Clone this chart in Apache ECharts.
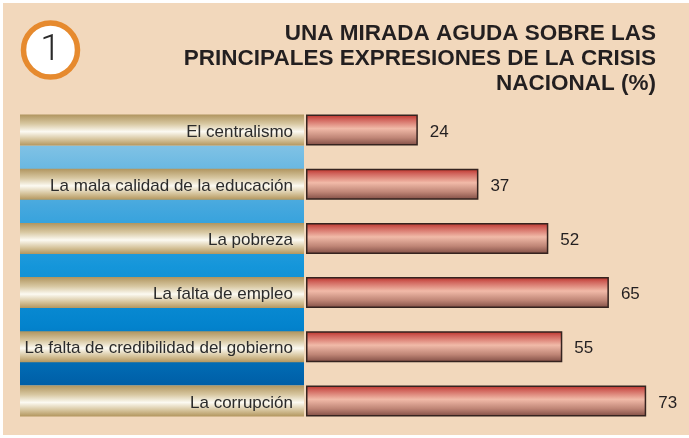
<!DOCTYPE html>
<html>
<head>
<meta charset="utf-8">
<script src="https://cdn.jsdelivr.net/npm/echarts@6/dist/echarts.min.js"></script>
<style>
  html, body { margin: 0; padding: 0; background: #ffffff; }
  #app { width: 689px; height: 438px; }
</style>
</head>
<body>
<div id="app"></div>
<script>
// crisis expressions, percent
const categories = [
  "El centralismo",
  "La mala calidad de la educación",
  "La pobreza",
  "La falta de empleo",
  "La falta de credibilidad del gobierno",
  "La corrupción",
];
const values = [24, 37, 52, 65, 55, 73];
const panelFill = [1, 1, 1, 1, 1, 1]; // label strips span the whole panel
const titleText = "UNA MIRADA AGUDA SOBRE LAS\nPRINCIPALES EXPRESIONES DE LA CRISIS\nNACIONAL (%)";

const FONT = "'Liberation Sans', Arial, sans-serif";
const gridTop = 103;
const gridHeight = 325;
const barW = 31;
const band = gridHeight / categories.length;

const chart = echarts.init(document.getElementById("app"));

const grad = (stops) => new echarts.graphic.LinearGradient(0, 0, 0, 1, stops);

chart.setOption({
  animation: false,
  graphic: [
    {
      type: "rect",
      z: -10,
      shape: { x: 3, y: 3, width: 686, height: 432 },
      style: { fill: "#f2d8bc" },
    },
    {
      // blue strip behind the label panel
      type: "rect",
      z: -5,
      shape: {
        x: 20,
        y: gridTop + band / 2 + barW / 2,
        width: 284,
        height: band * (categories.length - 1) - barW,
      },
      style: {
        fill: grad([
          { offset: 0, color: "#80c2e5" },
          { offset: 0.25, color: "#46a8de" },
          { offset: 0.5, color: "#1596da" },
          { offset: 0.75, color: "#0383cd" },
          { offset: 1, color: "#005ea6" },
        ]),
      },
    },
    {
      type: "text",
      x: 656,
      y: 21,
      style: {
        text: titleText,
        fontFamily: FONT,
        fontWeight: "bold",
        fontSize: 22.5,
        lineHeight: 25,
        fill: "#231f20",
        align: "right",
        verticalAlign: "top",
      },
    },
    {
      type: "circle",
      shape: { cx: 50.5, cy: 50, r: 27 },
      style: { fill: "#ffffff", stroke: "#e68a2e", lineWidth: 5.5 },
    },
    {
      type: "text",
      x: 50.5,
      y: 51,
      style: {
        text: "1",
        fontFamily: "Roboto, " + FONT,
        fontWeight: 300,
        fontSize: 37,
        fill: "#2a2a2a",
        align: "center",
        verticalAlign: "middle",
      },
    },
  ],
  grid: [
    { left: 20, width: 284, top: gridTop, height: gridHeight },
    { left: 306, width: 372.8, top: gridTop, height: gridHeight },
  ],
  xAxis: [
    { gridIndex: 0, type: "value", min: 0, max: 1, show: false },
    { gridIndex: 1, type: "value", min: 0, max: 80, show: false },
  ],
  yAxis: [
    { gridIndex: 0, type: "category", data: categories, inverse: true, show: false },
    { gridIndex: 1, type: "category", data: categories, inverse: true, show: false },
  ],
  series: [
    {
      type: "bar",
      xAxisIndex: 0,
      yAxisIndex: 0,
      data: panelFill,
      barWidth: barW,
      itemStyle: {
        color: grad([
          { offset: 0, color: "#b0955f" },
          { offset: 0.3, color: "#d8c8a2" },
          { offset: 0.55, color: "#fcfaf2" },
          { offset: 0.8, color: "#d6c49c" },
          { offset: 1, color: "#b3965e" },
        ]),
      },
      label: {
        show: true,
        position: "insideRight",
        distance: 11,
        offset: [0, 2],
        formatter: (p) => p.name,
        fontFamily: FONT,
        fontSize: 17,
        color: "#2b2b2b",
      },
      silent: true,
    },
    {
      type: "bar",
      xAxisIndex: 1,
      yAxisIndex: 1,
      data: values,
      barWidth: barW,
      itemStyle: {
        borderColor: "#35231f",
        borderWidth: 1.5,
        color: grad([
          { offset: 0, color: "#bc3028" },
          { offset: 0.15, color: "#d0625a" },
          { offset: 0.45, color: "#f1baa8" },
          { offset: 0.75, color: "#bf8576" },
          { offset: 1, color: "#7f4c43" },
        ]),
      },
      label: {
        show: true,
        position: "right",
        distance: 12,
        offset: [0, 2],
        fontFamily: FONT,
        fontSize: 17,
        color: "#231f20",
      },
    },
  ],
});
</script>
</body>
</html>
